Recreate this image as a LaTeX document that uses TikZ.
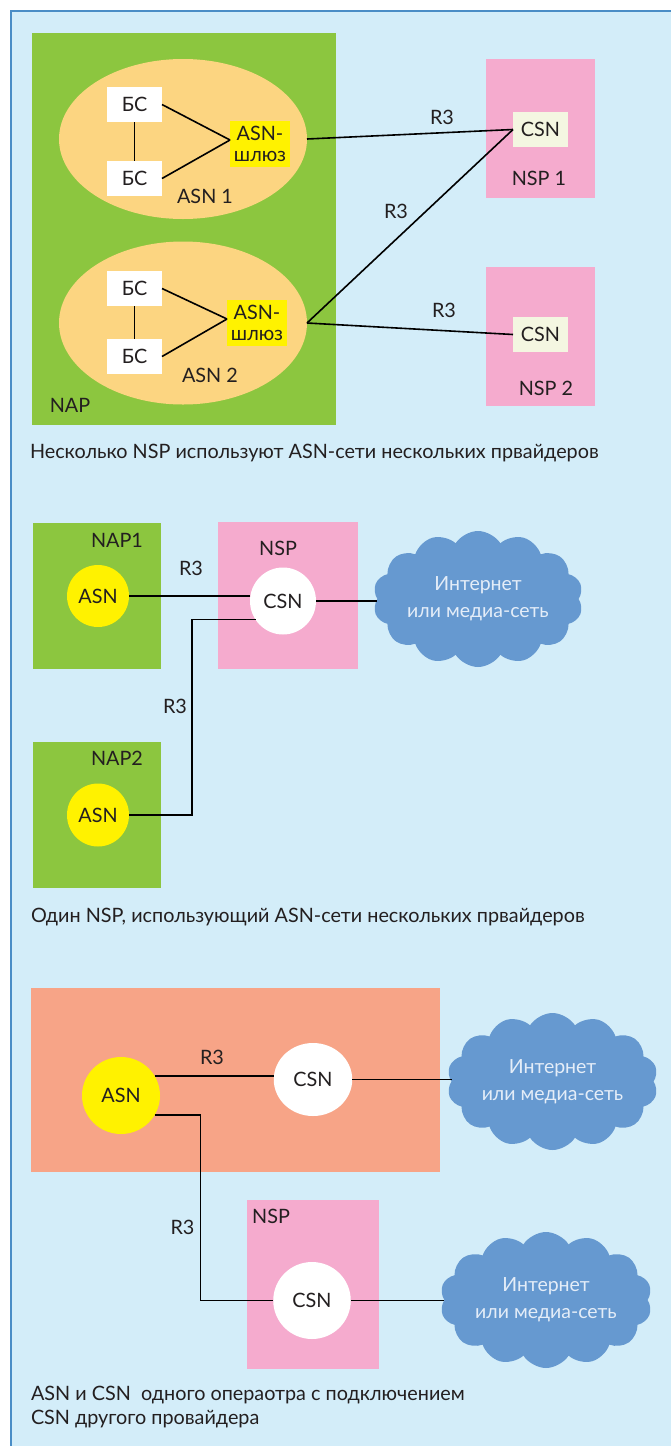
\documentclass[tikz,border=0pt]{standalone}
\usepackage{fontspec}
\setmainfont{Lato}
\usetikzlibrary{shapes.geometric,shapes.symbols}

\definecolor{panelblue}{HTML}{D3EDF9}
\definecolor{edgeblue}{HTML}{4A8DC6}
\definecolor{napgreen}{HTML}{8CC63F}
\definecolor{asnorange}{HTML}{FCD581}
\definecolor{gwyellow}{HTML}{FFF200}
\definecolor{nsppink}{HTML}{F5ABCE}
\definecolor{opsalmon}{HTML}{F7A487}
\definecolor{csnivory}{HTML}{F4F6E1}
\definecolor{cloudblue}{HTML}{6699D0}
\definecolor{cloudtext}{HTML}{E4EDF8}
\definecolor{ink}{HTML}{231F20}

\begin{document}
\begin{tikzpicture}[x=1pt,y=-1pt,
  every node/.style={inner sep=0pt, outer sep=0pt, text=ink,
    font=\fontsize{19.8}{24}\selectfont},
  area/.style={rectangle, draw=none},
  napbox/.style={area, fill=napgreen},
  nspbox/.style={area, fill=nsppink},
  opbox/.style={area, fill=opsalmon},
  asnzone/.style={ellipse, fill=asnorange},
  bsbox/.style={rectangle, fill=white, minimum width=55pt, minimum height=35pt},
  gwbox/.style={rectangle, fill=gwyellow, minimum width=60pt, minimum height=46pt,
    align=center, font=\fontsize{19.8}{21}\selectfont},
  csnbox/.style={rectangle, fill=csnivory, minimum width=55pt, minimum height=35pt},
  asnball/.style={ellipse, fill=gwyellow},
  csnball/.style={ellipse, fill=white},
  net/.style={cloud, cloud puffs=14, cloud puff arc=115, cloud ignores aspect,
    fill=cloudblue, text=cloudtext, align=center,
    font=\fontsize{19.5}{27}\selectfont},
  link/.style={draw=black, line width=1.6pt},
  caption/.style={anchor=west, align=left}]

\useasboundingbox (0,0) rectangle (670,1446);
\fill[white] (0,0) rectangle (670,1446);
\draw[fill=panelblue, draw=edgeblue, line width=1.3pt] (11,11) rectangle (690,1466);

% ---------- Several NSPs over the ASNs of several providers ----------
\node[napbox, minimum width=304pt, minimum height=392pt] (nap) at (184,229) {};
\node[asnzone, minimum width=248pt, minimum height=160pt] (asn1) at (183,139) {};
\node[asnzone, minimum width=248pt, minimum height=163pt] (asn2) at (183,323) {};

\node[bsbox] (bs11) at (134.5,104.5) {БС};
\node[bsbox] (bs12) at (134.5,178.5) {БС};
\node[gwbox] (gw1) at (260,144) {ASN-\\шлюз};
\node (asn1lbl) at (205,196) {ASN 1};

\node[bsbox] (bs21) at (134.5,288.5) {БС};
\node[bsbox] (bs22) at (134.5,356.5) {БС};
\node[gwbox] (gw2) at (257,323) {ASN-\\шлюз};
\node (asn2lbl) at (210,375) {ASN 2};
\node (naplbl) at (70,405) {NAP};

\draw[link] (bs11.east) -- ([yshift=4pt]gw1.west);
\draw[link] (bs12.east) -- ([yshift=4pt]gw1.west);
\draw[link] (bs11.south) -- (bs12.north);
\draw[link] (bs21.east) -- ([yshift=4pt]gw2.west);
\draw[link] (bs22.east) -- ([yshift=4pt]gw2.west);
\draw[link] (bs21.south) -- (bs22.north);

\node[nspbox, minimum width=109pt, minimum height=139pt] (nsp1) at (540.5,128.5) {};
\node[csnbox] (csn1) at (540.5,129.5) {CSN};
\node (nsp1lbl) at (539,178) {NSP 1};
\node[nspbox, minimum width=109pt, minimum height=139pt] (nsp2) at (540.5,336.5) {};
\node[csnbox] (csn2) at (540.5,334.5) {CSN};
\node (nsp2lbl) at (546,388) {NSP 2};

\draw[link] (asn1.east) -- (csn1.west);
\draw[link] (asn2.east) -- (csn1.west);
\draw[link] (asn2.east) -- (csn2.west);
\node (r3a) at (442,117) {R3};
\node (r3b) at (396,211) {R3};
\node (r3c) at (444,310) {R3};

\node[caption] (cap1) at (30,453) {Несколько NSP используют ASN-сети нескольких првайдеров};

% ---------- One NSP over the ASNs of several providers ----------
\node[napbox, minimum width=128pt, minimum height=146pt] (nap1) at (97,596) {};
\node (nap1lbl) at (117,540) {NAP1};
\node[asnball, minimum width=62pt, minimum height=62pt] (asnA) at (98,596) {ASN};

\node[nspbox, minimum width=140pt, minimum height=147pt] (nspA) at (288,595.5) {};
\node (nspAlbl) at (278,548) {NSP};
\node[csnball, minimum width=66pt, minimum height=67pt] (csnA) at (283,601) {CSN};
\node[net, minimum width=210pt, minimum height=136pt] (netA) at (478,599)
  {Интернет\\или медиа-сеть};

\node[napbox, minimum width=128pt, minimum height=146pt] (nap2) at (97,815) {};
\node (nap2lbl) at (117,758) {NAP2};
\node[asnball, minimum width=62pt, minimum height=63pt] (asnB) at (98,815) {ASN};

\draw[link] (asnA.east) -- (asnA.east -| csnA.west);
\draw[link] (csnA.east) -- (csnA.east -| netA.west);
\draw[link] (asnB.east) -- ++(63,0) |- (csnA.214);
\node (r3d) at (191,568) {R3};
\node (r3e) at (175,706) {R3};

\node[caption] (cap2) at (31,917) {Один NSP, использующий ASN-сети нескольких првайдеров};

% ---------- ASN and CSN of one operator plus a CSN of another ----------
\node[opbox, minimum width=409pt, minimum height=184pt] (op) at (235.5,1080) {};
\node[asnball, minimum width=78pt, minimum height=77pt] (asnC) at (121,1095.5) {ASN};
\node[csnball, minimum width=78.5pt, minimum height=73pt] (csnC) at (313,1079.5) {CSN};
\node[net, minimum width=211pt, minimum height=137pt] (netC) at (552.5,1081.5)
  {Интернет\\или медиа-сеть};

\node[nspbox, minimum width=132.5pt, minimum height=169pt] (nspD) at (312.75,1284.5) {};
\node (nspDlbl) at (271,1216) {NSP};
\node[csnball, minimum width=77.5pt, minimum height=77pt] (csnD) at (312,1300.5) {CSN};
\node[net, minimum width=212pt, minimum height=136pt] (netD) at (546,1300)
  {Интернет\\или медиа-сеть};

\draw[link] (asnC.30) -- (asnC.30 -| csnC.west);
\draw[link] (csnC.east) -- (csnC.east -| netC.west);
\draw[link] (asnC.-30) -- ++(46,0) |- (csnD.west);
\draw[link] (csnD.east) -- (csnD.east -| netD.west);
\node (r3f) at (212,1057) {R3};
\node (r3g) at (182.5,1227) {R3};

\node[caption] (cap3) at (31,1407) {ASN и CSN\ \ одного операотра с подключением\\CSN другого провайдера};

\end{tikzpicture}
\end{document}
